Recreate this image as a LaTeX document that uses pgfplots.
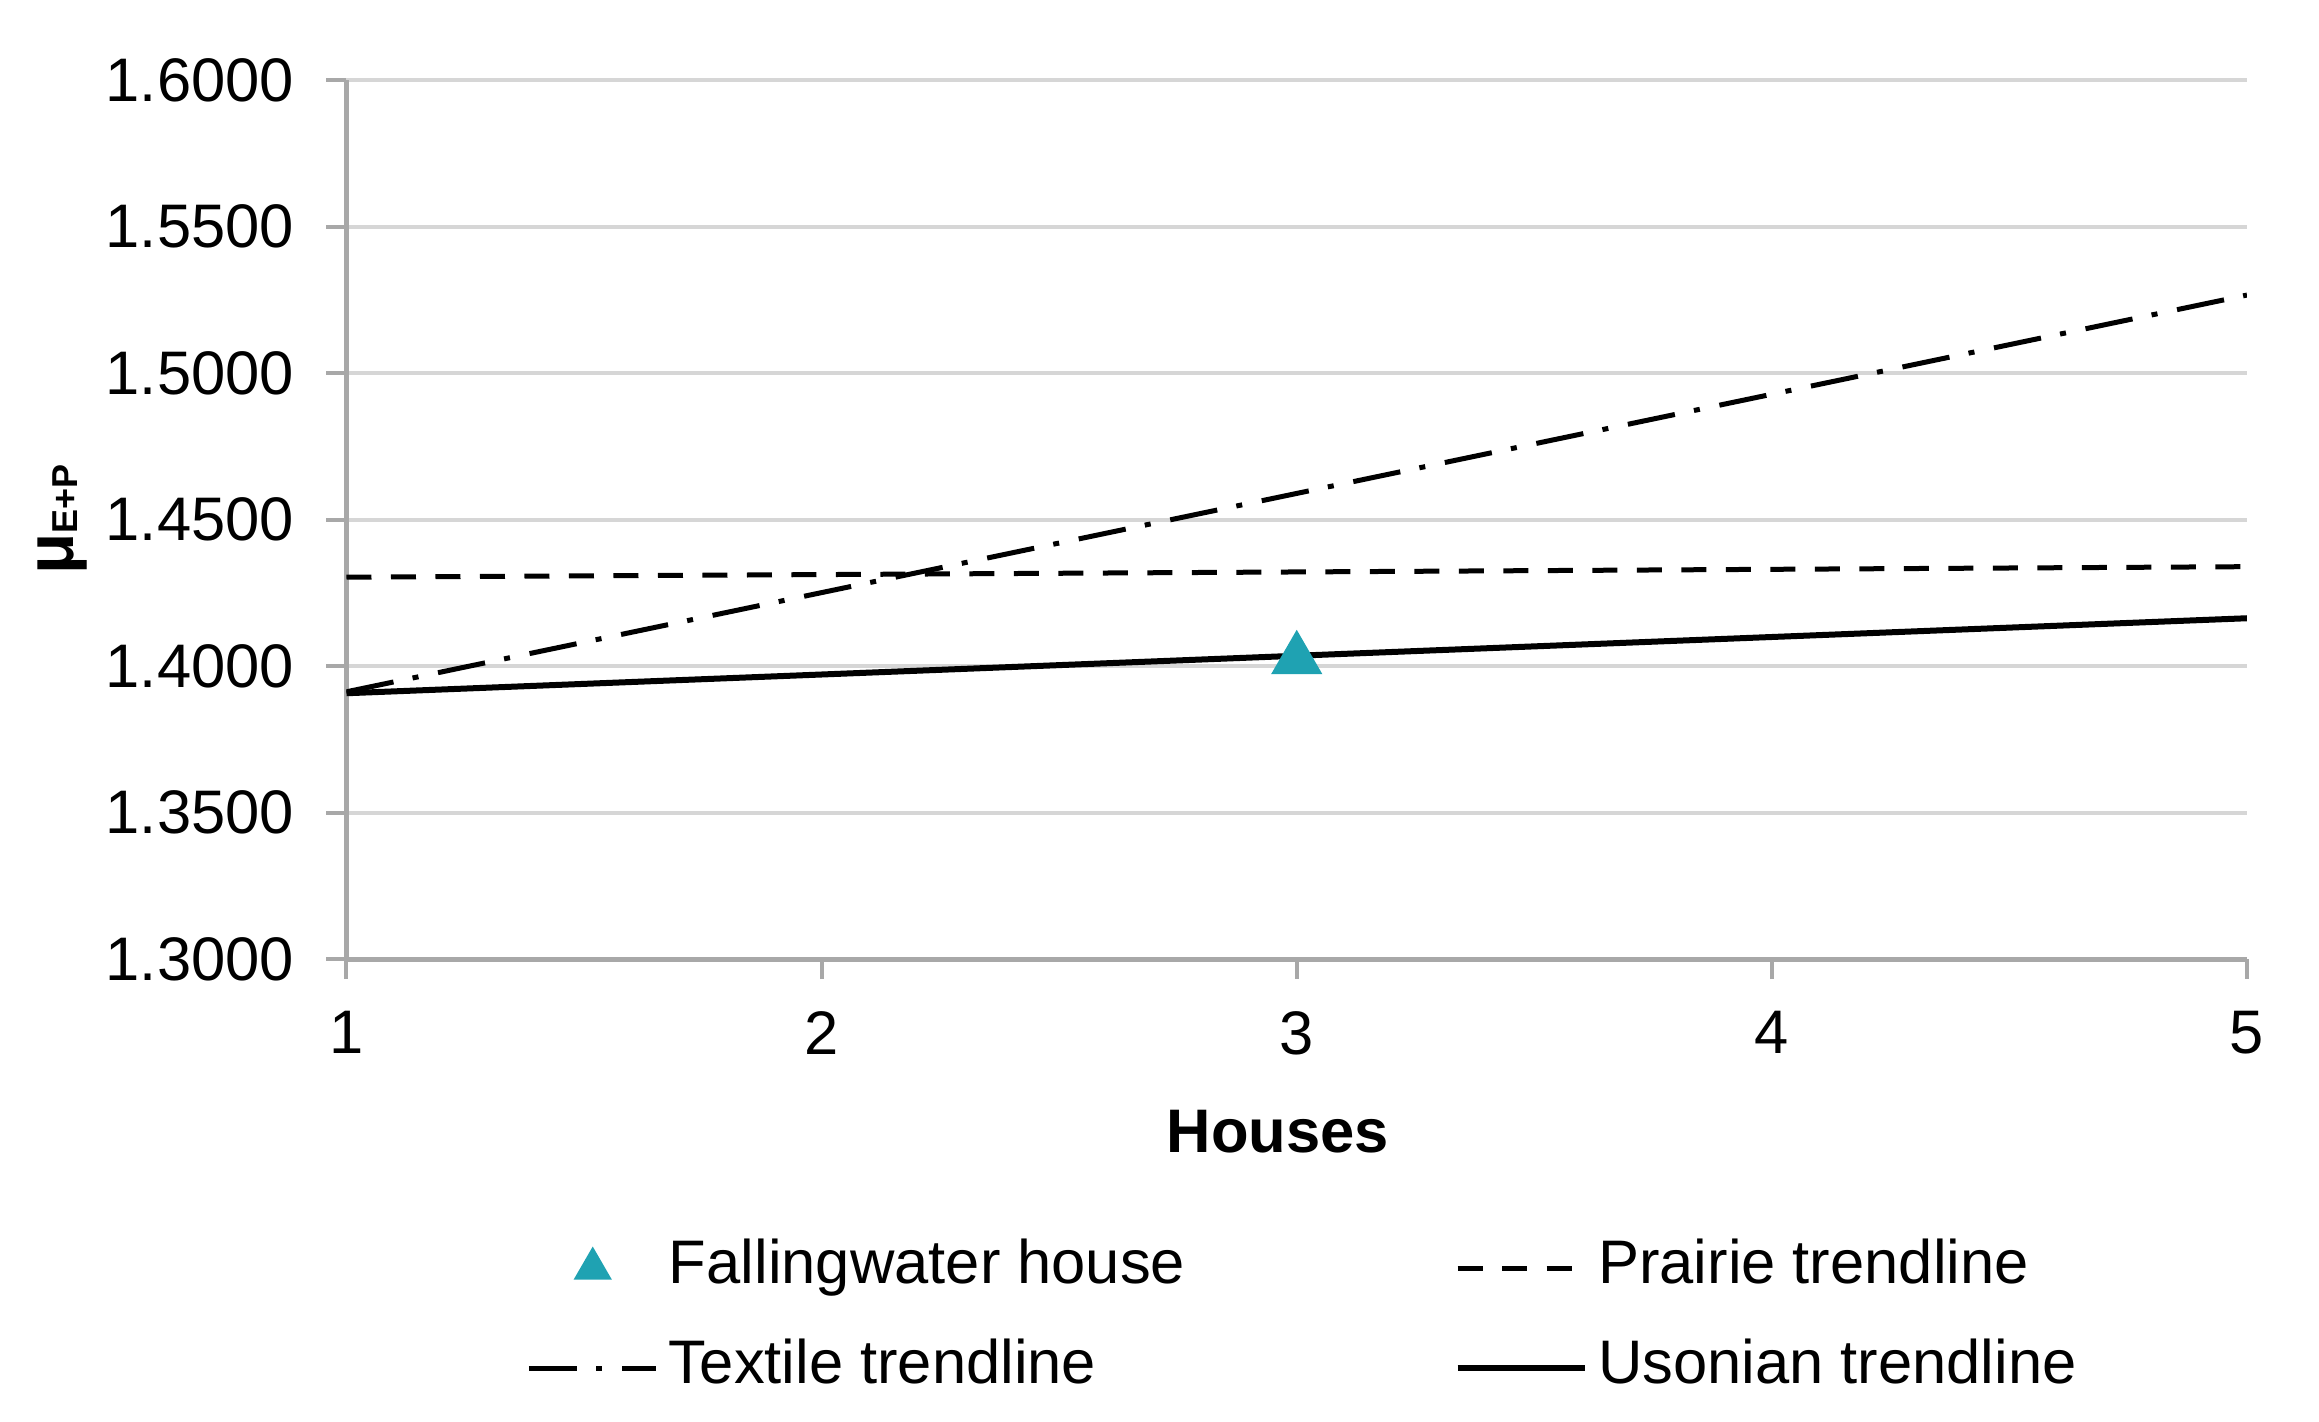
\documentclass[border=0pt]{standalone}
\usepackage{fontspec}
\setmainfont{Liberation Sans}
\usepackage{pgfplots}
\pgfplotsset{compat=1.18}
\definecolor{gridgray}{HTML}{D6D6D6}
\definecolor{axisgray}{HTML}{A8A8A8}
\definecolor{fwteal}{HTML}{1FA2B2}
\newcommand{\cf}{\fontsize{12.3}{14}\selectfont}
\pgfplotsset{
  lineleg/.style={legend image code/.code={\draw[##1] (0pt,0pt) -- (25.5pt,0pt);}},
  markleg/.style={legend image code/.code={\draw[mark repeat=2,mark phase=2,##1,mark size=4pt] plot coordinates {(0pt,0pt) (12.75pt,0pt) (25.5pt,0pt)};}},
}
\begin{document}
\begin{tikzpicture}
\begin{axis}[
  name=ax,
  scale only axis, width=380.1pt, height=175.8pt,
  xmin=1, xmax=5, ymin=1.3, ymax=1.6,
  xtick={1,2,3,4,5},
  ytick={1.30,1.35,1.40,1.45,1.50,1.55,1.60},
  axis x line=bottom, axis y line=left,
  axis line style={-, axisgray, line width=1pt},
  tick align=outside, major tick length=4pt,
  tick style={axisgray, line width=0.8pt},
  ymajorgrids, grid style={gridgray, line width=0.8pt},
  /pgf/number format/assume math mode=true,
  yticklabel style={/pgf/number format/.cd, fixed, fixed zerofill, precision=4, /tikz/.cd, xshift=-3pt},
  xticklabel style={yshift=-3pt},
  tick label style={font=\cf},
  xlabel={\textbf{Houses}},
  xlabel style={font=\cf, at={(axis description cs:0.49,-0.1968)}, anchor=center},
  ylabel={\textbf{μ\raisebox{-0.7pt}{\fontsize{7.2}{8}\selectfont E+P}}},
  ylabel style={font=\fontsize{13.5}{15}\selectfont, at={(axis description cs:-0.1492,0.5)}, anchor=center},
  legend columns=2,
  legend cell align=left,
  legend style={at={(axis description cs:0,0)}, anchor=north west, xshift=35.8pt, yshift=-55.7pt,
    draw=none, fill=none, inner sep=0pt, font=\cf,
    nodes={inner xsep=2pt, inner ysep=0pt, text height=9pt, text depth=3pt},
    row sep=7.9pt,
    /tikz/every even column/.append style={column sep=51.9pt}},
]
\addplot[only marks, mark=triangle*, mark size=5.5pt, color=fwteal, markleg]
  coordinates {(3,1.4023)};
\addlegendentry{Fallingwater house}
\addplot[black, line width=1pt, dash pattern=on 5pt off 3.9pt, lineleg]
  coordinates {(1,1.4303) (5,1.4339)};
\addlegendentry{Prairie trendline}
\addplot[black, line width=1pt, dash pattern=on 9.6pt off 3.9pt on 1.2pt off 4pt, lineleg]
  coordinates {(1,1.3912) (5,1.5266)};
\addlegendentry{Textile trendline}
\addplot[black, line width=1.2pt, lineleg]
  coordinates {(1,1.3907) (5,1.4163)};
\addlegendentry{Usonian trendline}
\end{axis}
\path (ax.south west) ++(-69.3pt,-92.4pt) rectangle ++(463.8pt,284.2pt);
\end{tikzpicture}
\end{document}
